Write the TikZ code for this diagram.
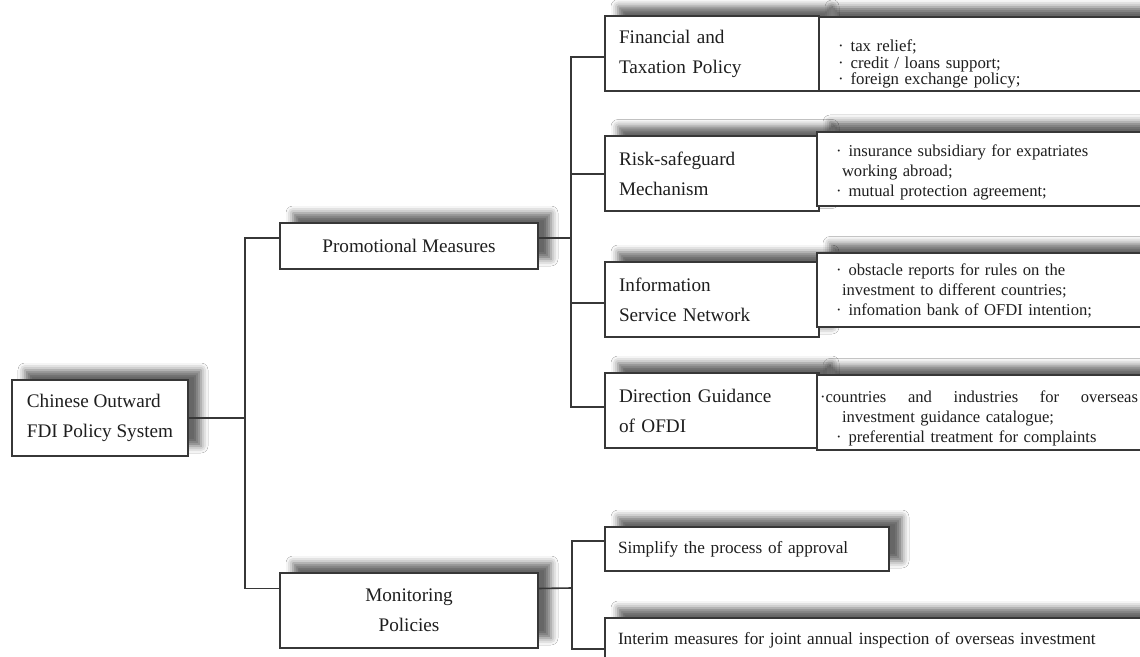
\documentclass[tikz,border=0pt]{standalone}
\usepackage{fontspec}
\setmainfont{Liberation Serif}
\usetikzlibrary{positioning,shadows.blur}
\definecolor{linegray}{RGB}{55,55,55}
\definecolor{inkgray}{RGB}{30,30,30}
\newcommand\lblfont{\fontsize{9.6}{15}\selectfont}
\newcommand\detfont{\fontsize{8.3}{10}\selectfont}
\newcommand\dotitem{·\hspace{3.5pt}}

\begin{document}
\begin{tikzpicture}[x=0.5pt,y=-0.5pt,
    shadebox/.style={draw=linegray,line width=1pt,fill=white,text=inkgray,
      outer sep=0pt,inner sep=0pt,
      blur shadow={shadow xshift=6.5pt,shadow yshift=5pt,shadow blur radius=3.5pt,shadow opacity=60}},
    lblbox/.style={shadebox,font=\lblfont,minimum height=37.5pt},
    leftbox/.style={lblbox,text width=93pt,inner xsep=7pt,align=left},
    detbox/.style={shadebox,font=\detfont,minimum height=37pt,
      text width=165pt,inner xsep=9.5pt,align=left},
    vh/.style={to path={|- (\tikztotarget)}}]
      \path[use as bounding box,fill=white] (0,0) rectangle (1140,657);
      \clip (0,0) rectangle (1140,657);
      \begin{scope}
        \node (root) [lblbox,minimum width=88pt,minimum height=38pt,align=left] at (100,418)
          {Chinese Outward\\FDI Policy System};
        \node (prom) [lblbox,minimum width=129pt,minimum height=23pt] at (409,246)
          {Promotional Measures};
        \node (mon) [lblbox,minimum width=129pt,align=center] at (409,610.5)
          {Monitoring\\Policies};
        % promotional measures
        \node (fin) [leftbox] at (712,54) {Financial and\\Taxation Policy};
        \node (risk) [leftbox] at (712,174) {Risk-safeguard\\Mechanism};
        \node (info) [leftbox] at (712,299.5) {Information\\Service Network};
        \node (dir) [leftbox] at (712,410.5) {Direction Guidance\\of OFDI};
        \node (finD) [detbox,font=\fontsize{8.4}{8.4}\selectfont] [right=0pt of fin]
          {\rule{0pt}{16pt}\dotitem tax relief;\\\dotitem credit / loans support;\\\dotitem foreign exchange policy;};
        \node (riskD) [detbox,yshift=2.5pt] [right=-1pt of risk]
          {\rule{0pt}{9pt}\dotitem insurance subsidiary for expatriates\\\hspace*{3pt}working abroad;\\\dotitem mutual protection agreement;};
        \node (infoD) [detbox,yshift=4.5pt] [right=-1pt of info]
          {\dotitem obstacle reports for rules on the\\\hspace*{3pt}investment to different countries;\\\dotitem infomation bank of OFDI intention;};
        \node (dirD) [detbox,yshift=-1pt] [right=-1pt of dir]
          {\rule{0pt}{12pt}\hspace*{-8pt}\makebox[159pt][l]{·countries\hfill and\hfill industries\hfill for\hfill overseas}\\\hspace*{3pt}investment guidance catalogue;\\\dotitem preferential treatment for complaints};
        % monitoring policies
        \node (simp) [shadebox,font=\fontsize{8.6}{10}\selectfont,anchor=west,minimum height=22pt,
          text width=129pt,inner xsep=6.5pt,align=left] at (605,549)
          {Simplify the process of approval};
        \node (interim) [shadebox,font=\fontsize{8.6}{10}\selectfont,anchor=north west,minimum height=22pt,
          text width=300pt,inner xsep=6.5pt,align=left] at (605,618)
          {Interim measures for joint annual inspection of overseas investment};
      \end{scope}
      \begin{scope}[every edge/.style={draw=linegray,line width=0.8pt}]
        \coordinate (jRoot) at (245,418);
        \coordinate (jProm) at (571,238);
        \coordinate (jMon) at (572,588);
        \path (root) edge (jRoot);
        \path (jRoot) edge[vh] ([yshift=4pt]prom.west);
        \path (jRoot) edge[vh] ([yshift=11pt]mon.west);
        \path ([yshift=4pt]prom.east) edge (jProm);
        \path (jProm) edge[vh] ([yshift=-1.5pt]fin.west);
        \path (jProm) edge[vh] (risk.west);
        \path (jProm) edge[vh] ([yshift=-1.75pt]info.west);
        \path (jProm) edge[vh] ([yshift=1.75pt]dir.west);
        \path ([yshift=11pt]mon.east) edge (jMon);
        \path (jMon) edge[vh] ([yshift=4pt]simp.west);
        \path (jMon) edge[vh] ([yshift=-4.5pt]interim.west);
      \end{scope}
    \end{tikzpicture}
\end{document}
